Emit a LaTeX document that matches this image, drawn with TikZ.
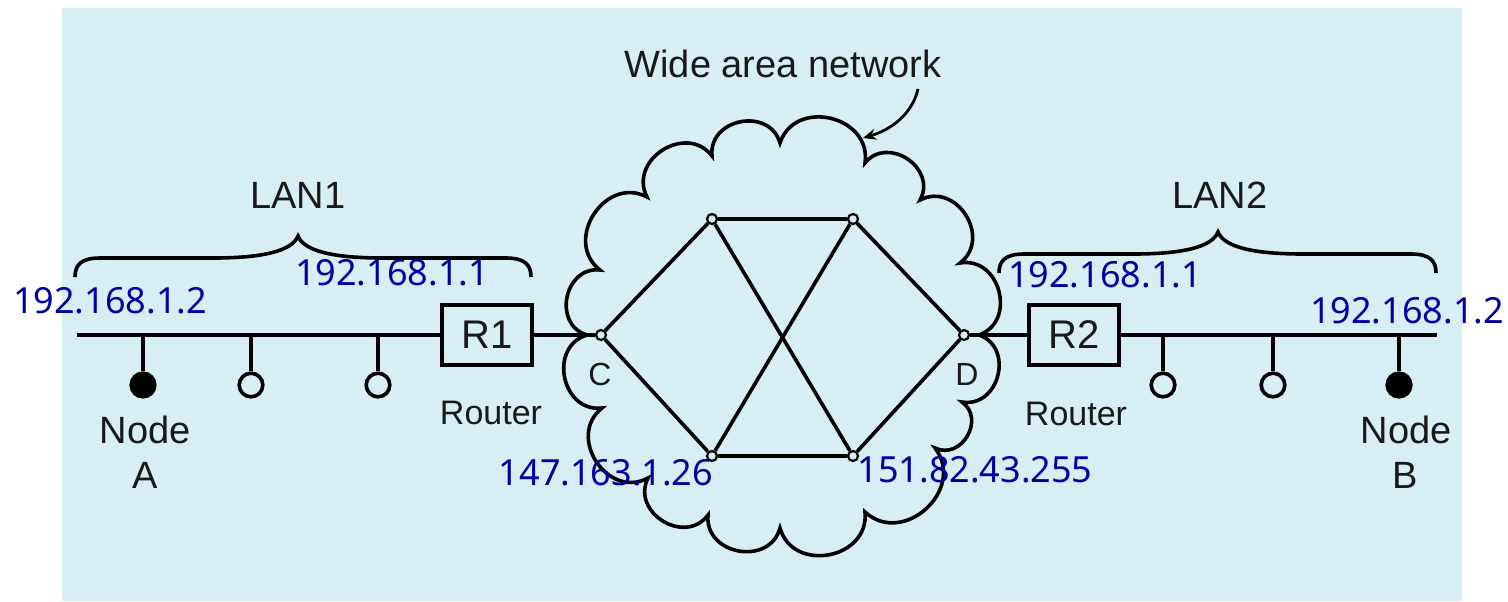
\documentclass[tikz,border=0pt]{standalone}
\usepackage{fontspec}
\setmainfont{Liberation Sans}
\newfontfamily\ipfont{Noto Sans}
\usetikzlibrary{arrows.meta}
\definecolor{bgblue}{RGB}{216,238,245}
\definecolor{ipblue}{RGB}{0,0,160}
\definecolor{ink}{RGB}{25,25,25}
\newcommand{\lanbrace}[4]{%
\draw[braceline] (#1,#4) .. controls (#1,#4-12) and (#1+6,#4-19) .. (#1+25,#4-19)
 -- (#2-85,#4-19) .. controls (#2-35,#4-19) and (#2-6,#4-26) .. (#2,#4-41)
 .. controls (#2+6,#4-26) and (#2+35,#4-19) .. (#2+85,#4-19)
 -- (#3-25,#4-19) .. controls (#3-6,#4-19) and (#3,#4-12) .. (#3,#4);}
\begin{document}
\begin{tikzpicture}[x=0.5pt,y=-0.5pt,
  wire/.style={draw=black, line width=2pt},
  edge/.style={draw=black, line width=1.8pt},
  braceline/.style={draw=black, line width=1.8pt},
  cloudline/.style={draw=black, line width=1.8pt},
  hub/.style={circle, draw=black, fill=bgblue, line width=1.1pt, minimum size=5pt, inner sep=0pt},
  station/.style={circle, draw=black, fill=bgblue, line width=1.8pt, minimum size=11.8pt, inner sep=0pt},
  mainstation/.style={station, fill=black},
  router/.style={draw=black, line width=2pt, minimum width=45pt, minimum height=30pt, inner sep=0pt, font=\fontsize{20}{20}\selectfont, text=ink},
  lbl/.style={text=ink, font=\fontsize{19}{19}\selectfont, inner sep=0pt},
  small/.style={text=ink, font=\fontsize{17}{17}\selectfont, inner sep=0pt},
  tiny/.style={text=ink, font=\fontsize{16}{16}\selectfont, inner sep=0pt},
  iplbl/.style={text=ipblue, font=\ipfont\fontsize{18}{18}\selectfont, inner sep=0pt},
  lobe/.style={bend left=85, looseness=1.4},
  ]
\useasboundingbox (0,0) rectangle (1508,601);
\fill[white] (0,0) rectangle (1508,601);
\fill[bgblue] (62,8) rectangle (1462,601);

% cloud
\draw[cloudline] (587,335) to[lobe] (600,270) to[lobe] (647,197) to[lobe] (712,156)
  to[lobe] (780,143) to[lobe] (865,163) to[lobe] (920,200) to[lobe] (960,263)
  to[lobe] (979,335) to[lobe] (962,402) to[lobe] (935,448) to[lobe] (865,512)
  to[lobe] (780,528) to[lobe] (708,515) to[lobe] (648,478) to[lobe] (602,408)
  to[lobe] (587,335);

% labels
\node[lbl] (wan) at (783,64) {Wide area network};
\node[lbl] (lan1) at (298,195) {LAN1};
\node[lbl] (lan2) at (1220,195) {LAN2};
\coordinate (arrS) at (918,89);
\coordinate (arrE) at (863,138);
\draw[line width=1.4pt, -{Stealth[length=6.5pt,width=5.5pt]}] (arrS) .. controls (912,115) and (890,130) .. (arrE);

\lanbrace{75}{298}{531}{277}
\lanbrace{999}{1218}{1436}{273}

% routers and WAN nodes
\node[router] (R1) at (487,335) {R1};
\node[router] (R2) at (1074,335) {R2};
\node[hub] (C) at (601,335) {};
\node[hub] (D) at (964,335) {};
\node[hub] (W1) at (712,219) {};
\node[hub] (W2) at (853,219) {};
\node[hub] (W3) at (712,456) {};
\node[hub] (W4) at (853,456) {};

\coordinate (busL) at (77,335);
\coordinate (busR) at (1437,335);

\node[mainstation] (A) at (143,385) {};
\node[station] (S2) at (251,385) {};
\node[station] (S3) at (378,385) {};
\node[station] (S4) at (1163,385) {};
\node[station] (S5) at (1273,385) {};
\node[mainstation] (B) at (1399,385) {};

\draw[wire] (busL) -- (R1);
\draw[wire] (R1) -- (C);
\draw[wire] (D) -- (R2);
\draw[wire] (R2) -- (busR);
\foreach \s in {A,S2,S3,S4,S5,B} { \draw[wire] (\s) -- (\s |- busL); }
\draw[edge] (C) -- (W1);
\draw[edge] (C) -- (W3);
\draw[edge] (W1) -- (W2);
\draw[edge] (W1) -- (W4);
\draw[edge] (W2) -- (W3);
\draw[edge] (W2) -- (D);
\draw[edge] (W3) -- (W4);
\draw[edge] (W4) -- (D);

\node[tiny] (Clbl) at (600,374) {C};
\node[tiny] (Dlbl) at (967,374) {D};
\node[small] (rt1) at (491,413) {Router};
\node[small] (rt2) at (1076,414) {Router};
\node[lbl] (nA) at (145,430) {Node};
\node[lbl] (lA) at (145,475) {A};
\node[lbl] (nB) at (1406,430) {Node};
\node[lbl] (lB) at (1405,475) {B};

\node[iplbl] (ip1) at (110,301) {192.168.1.2};
\node[iplbl] (ip2) at (392,273) {192.168.1.1};
\node[iplbl] (ip3) at (606,473) {147.163.1.26};
\node[iplbl] (ip4) at (975,470) {151.82.43.255};
\node[iplbl] (ip5) at (1105,275) {192.168.1.1};
\node[iplbl] (ip6) at (1407,311) {192.168.1.2};
\end{tikzpicture}
\end{document}
